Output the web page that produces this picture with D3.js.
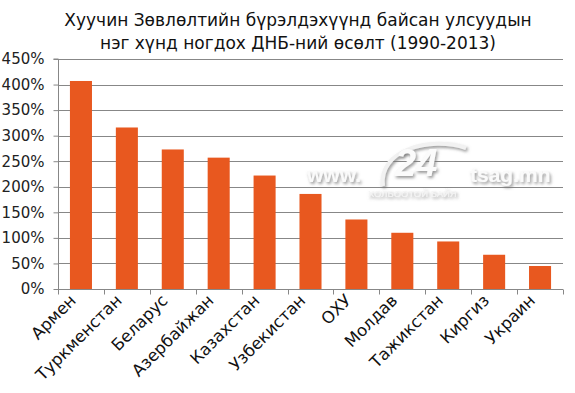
<!DOCTYPE html>
<html><head><meta charset="utf-8">
<script src="https://cdn.jsdelivr.net/npm/d3@7"></script>
<style>body{margin:0;background:#fff}svg{display:block}</style>
</head><body>
<svg id="c" width="575" height="393"></svg>
<script>
const categories = ["Армен","Туркменстан","Беларус","Азербайжан","Казахстан","Узбекистан","ОХУ","Молдав","Тажикстан","Киргиз","Украин"];
const values = [407, 316, 273, 257, 222, 186, 136, 110, 93, 67, 45];
const yTicks = [0,50,100,150,200,250,300,350,400,450];
const titleLines = ["Хуучин Зөвлөлтийн бүрэлдэхүүнд байсан улсуудын","нэг хүнд ногдох ДНБ-ний өсөлт (1990-2013)"];

const svg = d3.select("#c");
const m = {l:58, r:563, t:59, b:289};
const x = d3.scaleBand().domain(categories).range([m.l, m.r]).paddingInner(0.52).paddingOuter(0.26);
const y = d3.scaleLinear().domain([0,450]).range([m.b, m.t]);
const font = "DejaVu Sans, Verdana, sans-serif";

const defs = svg.append("defs");
const f = defs.append("filter").attr("id","sh").attr("x","-20%").attr("y","-40%").attr("width","140%").attr("height","180%");
f.append("feDropShadow").attr("dx",1.5).attr("dy",2).attr("stdDeviation",1.6).attr("flood-color","#777").attr("flood-opacity",0.75);

// title
svg.append("g").selectAll("text").data(titleLines).join("text")
  .attr("x", 298).attr("y",(d,i)=>26+i*23).attr("text-anchor","middle")
  .attr("font-family",font).attr("font-size",17).attr("fill","#111").text(d=>d);

// gridlines
svg.append("g").selectAll("line").data(yTicks.filter(d=>d>0)).join("line")
  .attr("x1",m.l).attr("x2",m.r).attr("y1",d=>Math.round(y(d))+0.5).attr("y2",d=>Math.round(y(d))+0.5)
  .attr("stroke","#878787").attr("stroke-width",1);

// watermark
const wm = svg.append("g").attr("font-family","Liberation Sans, Arial, sans-serif").attr("font-weight","bold");
wm.append("path").attr("d","M383,186 C378,150 430,136 466,148")
  .attr("fill","none").attr("stroke","#f2f2f2").attr("stroke-width",4).attr("filter","url(#sh)");
wm.append("text").attr("x",307).attr("y",182).attr("font-size",21).attr("fill","#fafafa").attr("filter","url(#sh)").text("www.");
wm.append("text").attr("x",470).attr("y",182).attr("font-size",21).attr("fill","#fafafa").attr("filter","url(#sh)").text("tsag.mn");
wm.append("text").attr("x",395).attr("y",176).attr("font-size",38).attr("font-style","italic").attr("fill","#fbfbfb").attr("filter","url(#sh)").text("24");
wm.append("text").attr("x",368).attr("y",197).attr("font-size",9.5).attr("font-weight","normal").attr("fill","#f4f4f4").attr("filter","url(#sh)").text("ХОЛБООТОЙ БАЙЯ");

// bars
svg.append("g").selectAll("rect").data(values).join("rect")
  .attr("x",(d,i)=>x(categories[i])).attr("width",x.bandwidth())
  .attr("y",d=>y(d)).attr("height",d=>y(0)-y(d)).attr("fill","#e8581f");

// y axis
const ya = svg.append("g").attr("transform",`translate(${m.l+0.5},0)`)
  .call(d3.axisLeft(y).tickValues(yTicks).tickFormat(d=>d+"%").tickSize(5).tickPadding(9));
ya.select(".domain").attr("stroke","#878787").attr("d",`M-5,${m.t}H0V${m.b}`);
ya.selectAll(".tick line").attr("stroke","#878787");
ya.selectAll("text").attr("font-family",font).attr("font-size",15).attr("fill","#222");

// x axis
const xa = svg.append("g").attr("transform",`translate(0,${m.b+0.5})`);
xa.append("line").attr("x1",m.l).attr("x2",m.r).attr("stroke","#878787");
const step = x.step();
const bounds = d3.range(categories.length+1).map(i=>x(categories[0]) - x.paddingOuter()*step + i*step);
xa.selectAll("line.t").data(bounds).join("line").attr("class","t")
  .attr("x1",d=>Math.round(d)+0.5).attr("x2",d=>Math.round(d)+0.5).attr("y1",0).attr("y2",5).attr("stroke","#878787");
xa.selectAll("text").data(categories).join("text")
  .attr("transform",d=>`translate(${x(d)+x.bandwidth()/2-4},12) rotate(-45)`)
  .attr("text-anchor","end")
  .attr("font-family",font).attr("font-size",16.5).attr("fill","#111").text(d=>d);
</script>
</body></html>
